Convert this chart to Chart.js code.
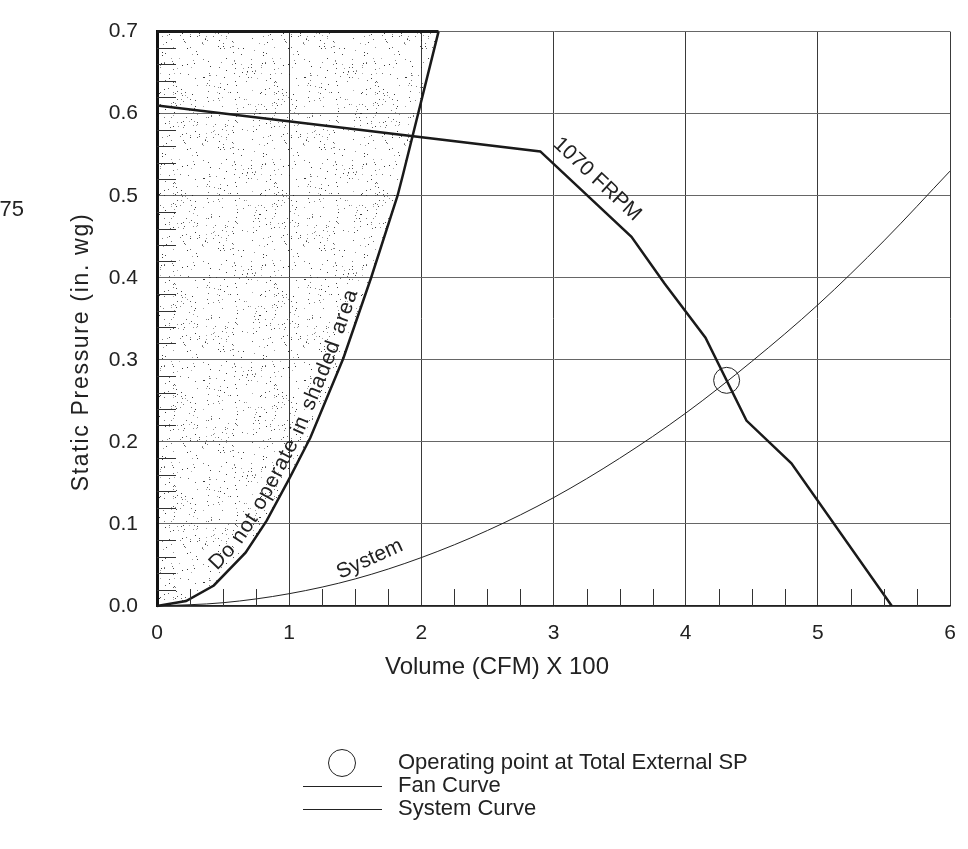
<!DOCTYPE html>
<html>
<head>
<meta charset="utf-8">
<script src="https://cdn.jsdelivr.net/npm/chart.js@4.4.1/dist/chart.umd.min.js"></script>
<style>
  html, body { margin: 0; padding: 0; background: #fff; }
</style>
</head>
<body>
<canvas id="fanChart" width="968" height="849"></canvas>
<script>
// fan curve at 1070 FRPM (volume in CFM x 100, static pressure in. wg)
const fanX = [0, 2.9, 3.59, 3.84, 4.15, 4.46, 4.8, 5.56];
const fanY = [0.61, 0.554, 0.45, 0.393, 0.327, 0.226, 0.174, 0];

// system curve, read every 0.5
const sysX = [0, 0.5, 1, 1.5, 2, 2.5, 3, 3.5, 4, 4.5, 5, 5.5, 6];
const sysY = [0, 0.004, 0.015, 0.033, 0.059, 0.092, 0.132, 0.18, 0.235, 0.298, 0.367, 0.445, 0.53];

// edge of the "do not operate" zone
const limitX = [0, 0.22, 0.43, 0.67, 0.83, 1.0, 1.16, 1.41, 1.62, 1.82, 1.86, 2.13];
const limitY = [0, 0.006, 0.025, 0.065, 0.104, 0.155, 0.205, 0.302, 0.4, 0.5, 0.525, 0.7];

// operating point at total external SP
const opX = [4.31];
const opY = [0.275];

const xMin = 0, xMax = 6;
const yMin = 0, yMax = 0.7;

const legendLabels = ['Operating point at Total External SP', 'Fan Curve', 'System Curve'];

const FONT = '"Liberation Sans", Arial, sans-serif';
const INK = '#222';

function pts(xs, ys) {
    return xs.map((x, i) => ({ x: x, y: ys[i] }));
}

// dotted texture for the shaded zone
function stipple(ctx) {
    const c = document.createElement('canvas');
    c.width = 101; c.height = 101;
    const g = c.getContext('2d');
    let s = 12345;
    const rnd = () => (s = (s * 16807) % 2147483647) / 2147483647;
    for (let i = 0; i < 270; i++) {
        g.fillStyle = 'rgba(25,25,25,' + (0.35 + rnd() * 0.55).toFixed(2) + ')';
        g.fillRect(Math.floor(rnd() * 101), Math.floor(rnd() * 101), 1, 1);
    }
    return ctx.createPattern(c, 'repeat');
}

function textAlongPath(ctx, path, text, startAt, offset, spacing) {
    const segs = [];
    let total = 0;
    for (let i = 1; i < path.length; i++) {
        const dx = path[i].x - path[i - 1].x, dy = path[i].y - path[i - 1].y;
        const len = Math.hypot(dx, dy);
        segs.push({ x: path[i - 1].x, y: path[i - 1].y, dx: dx / len, dy: dy / len, len: len, start: total });
        total += len;
    }
    const at = s => {
        let seg = segs[segs.length - 1];
        for (const g of segs) { if (s <= g.start + g.len) { seg = g; break; } }
        const t = s - seg.start;
        return { x: seg.x + seg.dx * t, y: seg.y + seg.dy * t };
    };
    let s = startAt;
    ctx.textAlign = 'center';
    ctx.textBaseline = 'alphabetic';
    for (const ch of text) {
        const w = ctx.measureText(ch).width;
        const p1 = at(s), p2 = at(s + w);
        const a = Math.atan2(p2.y - p1.y, p2.x - p1.x);
        const mx = (p1.x + p2.x) / 2, my = (p1.y + p2.y) / 2;
        ctx.save();
        ctx.translate(mx + Math.sin(a) * offset, my - Math.cos(a) * offset);
        ctx.rotate(a);
        ctx.fillText(ch, 0, 0);
        ctx.restore();
        s += w + (ch === ' ' ? spacing * 3 : spacing);
    }
}

// small inside ticks along the x and y axes
const minorTicks = {
    id: 'minorTicks',
    afterDatasetsDraw(chart) {
        const ctx = chart.ctx, x = chart.scales.x, y = chart.scales.y;
        const a = chart.chartArea;
        ctx.save();
        ctx.strokeStyle = '#333';
        ctx.lineWidth = 1;
        ctx.beginPath();
        for (let i = 1; i < 24; i++) {
            if (i % 4 === 0) continue;
            const px = Math.round(x.getPixelForValue(i / 4)) + 0.5;
            ctx.moveTo(px, a.bottom);
            ctx.lineTo(px, a.bottom - 17);
        }
        for (let i = 1; i < 35; i++) {
            if (i % 5 === 0) continue;
            const py = Math.round(y.getPixelForValue(i * 0.02)) + 0.5;
            ctx.moveTo(a.left, py);
            ctx.lineTo(a.left + 19, py);
        }
        ctx.stroke();
        ctx.restore();
    }
};

// curve labels
const curveLabels = {
    id: 'curveLabels',
    afterDatasetsDraw(chart) {
        const ctx = chart.ctx, x = chart.scales.x, y = chart.scales.y;
        ctx.save();
        ctx.fillStyle = INK;
        ctx.font = '21px ' + FONT;
        ctx.textAlign = 'center';
        ctx.textBaseline = 'middle';

        ctx.save();
        ctx.translate(x.getPixelForValue(3.33), y.getPixelForValue(0.52));
        ctx.rotate(43 * Math.PI / 180);
        ctx.fillText('1070 FRPM', 0, 0);
        ctx.restore();

        ctx.save();
        ctx.translate(x.getPixelForValue(1.61), y.getPixelForValue(0.057));
        ctx.rotate(-24.6 * Math.PI / 180);
        ctx.fillText('System', 0, 0);
        ctx.restore();

        const path = limitX.map((v, i) => ({ x: x.getPixelForValue(v), y: y.getPixelForValue(limitY[i]) }));
        textAlongPath(ctx, path, 'Do not operate in shaded area', 74, 8, 0.9);
        ctx.restore();
    }
};

// axis titles, legend block and stray text
const frameText = {
    id: 'frameText',
    afterDraw(chart) {
        const ctx = chart.ctx;
        ctx.save();
        ctx.fillStyle = INK;
        ctx.strokeStyle = INK;

        ctx.font = '24px ' + FONT;
        ctx.textAlign = 'center';
        ctx.textBaseline = 'middle';
        ctx.fillText('Volume (CFM) X 100', 497, 667);

        ctx.save();
        ctx.translate(82, 352);
        ctx.rotate(-Math.PI / 2);
        ctx.font = '23px ' + FONT;
        ctx.letterSpacing = '1.7px';
        ctx.fillText('Static Pressure (in. wg)', 0, 0);
        ctx.restore();

        ctx.font = '22px ' + FONT;
        ctx.textAlign = 'right';
        ctx.fillText('75', 24, 210);

        // legend
        ctx.textAlign = 'left';
        ctx.lineWidth = 1;
        ctx.beginPath();
        ctx.arc(342, 763, 13.5, 0, Math.PI * 2);
        ctx.stroke();
        ctx.fillText(legendLabels[0], 398, 763);

        ctx.beginPath();
        ctx.moveTo(303, 786.5);
        ctx.lineTo(382, 786.5);
        ctx.moveTo(303, 809.5);
        ctx.lineTo(382, 809.5);
        ctx.stroke();
        ctx.fillText(legendLabels[1], 398, 786);
        ctx.fillText(legendLabels[2], 398, 809);
        ctx.restore();
    }
};

const canvas = document.getElementById('fanChart');
const ctx = canvas.getContext('2d');

new Chart(ctx, {
    type: 'line',
    data: {
        datasets: [{
            data: pts(limitX, limitY),
            borderColor: '#1a1a1a',
            borderWidth: 2.5,
            backgroundColor: stipple(ctx),
            fill: 'end',
            pointRadius: 0,
            tension: 0,
            clip: false
        }, {
            data: [{ x: limitX[0], y: yMax }, { x: limitX[limitX.length - 1], y: yMax }],
            borderColor: '#1a1a1a',
            borderWidth: 3,
            pointRadius: 0,
            fill: false,
            clip: false
        }, {
            data: pts(fanX, fanY),
            borderColor: '#1a1a1a',
            borderWidth: 2.5,
            pointRadius: 0,
            fill: false,
            tension: 0
        }, {
            data: pts(sysX, sysY),
            borderColor: '#222',
            borderWidth: 1,
            pointRadius: 0,
            fill: false,
            cubicInterpolationMode: 'monotone'
        }, {
            data: pts(opX, opY),
            showLine: false,
            pointRadius: 13,
            pointBorderWidth: 1,
            pointBorderColor: '#222',
            pointBackgroundColor: 'rgba(0,0,0,0)',
            fill: false
        }]
    },
    options: {
        responsive: false,
        animation: false,
        devicePixelRatio: 1,
        layout: {
            padding: { top: 29, right: 18, bottom: 203, left: 0 }
        },
        plugins: {
            legend: { display: false },
            tooltip: { enabled: false }
        },
        scales: {
            x: {
                type: 'linear',
                min: xMin,
                max: xMax,
                afterFit: s => { s.height = 40; s.paddingLeft = 0; s.paddingRight = 0; },
                ticks: {
                    stepSize: 1,
                    padding: 15,
                    color: INK,
                    font: { family: FONT, size: 21 },
                    maxRotation: 0,
                    autoSkip: false,
                    callback: v => String(v)
                },
                grid: { color: '#3a3a3a', lineWidth: 1, drawTicks: false },
                border: { color: '#222', width: 1.5 }
            },
            y: {
                min: yMin,
                max: yMax,
                afterFit: s => { s.width = 157; },
                ticks: {
                    stepSize: 0.1,
                    padding: 19,
                    color: INK,
                    font: { family: FONT, size: 21 },
                    callback: v => v.toFixed(1)
                },
                grid: { color: '#666', lineWidth: 1, drawTicks: false },
                border: { color: '#111', width: 3 }
            }
        }
    },
    plugins: [minorTicks, curveLabels, frameText]
});
</script>
</body>
</html>
